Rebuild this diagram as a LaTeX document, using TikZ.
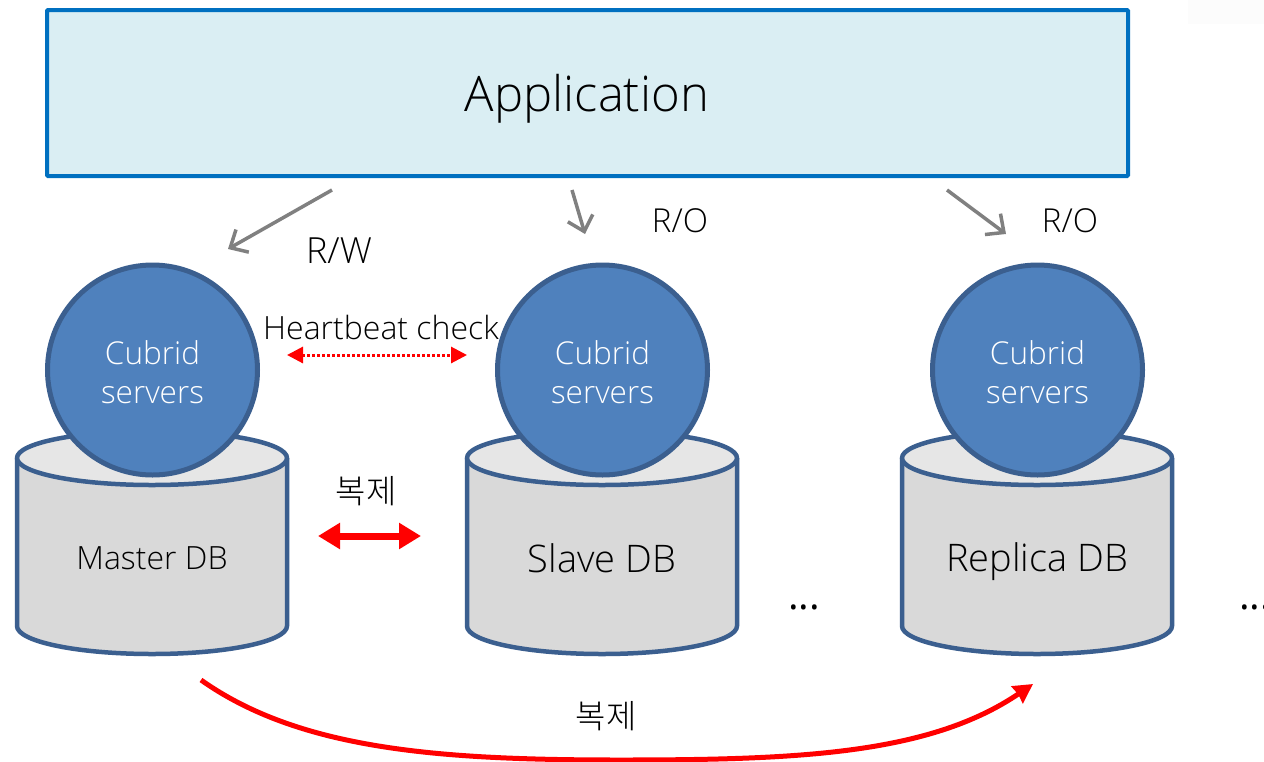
\documentclass[tikz,border=0pt]{standalone}
\usepackage{fontspec}
\setmainfont{Open Sans Light}[BoldFont={Open Sans}]
\newfontfamily\kofont{Noto Sans CJK KR Light}
\usetikzlibrary{arrows.meta}
\definecolor{edgeblue}{HTML}{3B5F8F}
\definecolor{fillblue}{HTML}{4F81BD}
\definecolor{appfill}{HTML}{DAEEF3}
\definecolor{appedge}{HTML}{0070C0}
\definecolor{bodygray}{HTML}{D9D9D9}
\definecolor{topgray}{HTML}{E6E6E6}
\definecolor{arrowgray}{HTML}{808080}
\tikzset{
  x=1pt,y=-1pt,
  appbox/.style={draw=appedge,fill=appfill,line width=4pt,rounded corners=1pt,minimum width=1081pt,minimum height=166pt,inner sep=0pt},
  server/.style={circle,draw=edgeblue,fill=fillblue,line width=5pt,minimum size=210pt,inner sep=0pt,text=white,align=center,font=\fontsize{31.5}{39}\selectfont},
  dbshape/.style={draw=edgeblue,line width=4.5pt,line join=round},
  lbl/.style={inner sep=0pt,text=black,font=\fontsize{33}{36}\selectfont},
  dblbl/.style={inner sep=0pt,text=black,font=\fontsize{38}{40}\selectfont},
  kolbl/.style={inner sep=0pt,text=black,font=\kofont\fontsize{33}{36}\selectfont},
  dotlbl/.style={inner sep=0pt,text=black,font=\bfseries\fontsize{40}{40}\selectfont},
  grayarrow/.style={draw=arrowgray,line width=3.5pt,-{Straight Barb[length=14pt,width=26pt,line width=3.5pt]}},
  hbarrow/.style={draw=red,line width=3pt,dotted,{Triangle[length=16pt,width=16pt,sep=0pt]}-{Triangle[length=16pt,width=16pt]}},
  reparrow/.style={draw=red,line width=7pt,{Triangle[length=22pt,width=25pt]}-{Triangle[length=22pt,width=25pt]}},
  curvearrow/.style={draw=red,line width=5pt,-{Stealth[length=19pt,width=20pt,inset=1pt]}},
  pics/dbcyl/.style={code={
    \path[dbshape,fill=bodygray] (-135,-1) -- (-135,167) arc[start angle=180,end angle=360,x radius=135,y radius=-28] -- (135,-1);
    \path[dbshape,fill=topgray] (0,-1) ellipse[x radius=135,y radius=27];
  }}
}
\newcommand{\srvtext}{\rule{0pt}{29pt}Cubrid\\servers}
\begin{document}
\begin{tikzpicture}
\useasboundingbox (0,0) rectangle (1264,761);
\fill[white] (0,0) rectangle (1264,761);
\fill[black!1] (1188,0) rectangle (1264,24);
\node[appbox] (app) at (587.5,93) {};
\node[inner sep=0pt,font=\fontsize{49}{50}\selectfont] (apptext) at (587,99) {Application};
\pic at (152,459) {dbcyl};
\pic at (602,459) {dbcyl};
\pic at (1037,459) {dbcyl};
\node[server] (s1) at (152.5,370) {\srvtext};
\node[server] (s2) at (602.5,370) {\srvtext};
\node[server] (s3) at (1037.5,370) {\srvtext};
\node[dblbl,font=\fontsize{32}{36}\selectfont] (d1) at (152,558) {Master DB};
\node[dblbl] (d2) at (602,558) {Slave DB};
\node[dblbl] (d3) at (1037,562) {Replica DB};
\node[lbl,font=\fontsize{36}{36}\selectfont] (rw) at (339,251) {R/W};
\node[lbl] (ro1) at (680,221) {R/O};
\node[lbl] (ro2) at (1070,221) {R/O};
\node[lbl,font=\fontsize{32}{36}\selectfont] (hb) at (381,327) {Heartbeat check};
\node[kolbl] (k1) at (366,491) {복제};
\node[kolbl] (k2) at (606,716) {복제};
\node[dotlbl] (dots1) at (804,607) {...};
\node[dotlbl] (dots2) at (1255,607) {...};
\coordinate (a1s) at (332,190); \coordinate (a1e) at (228,249);
\coordinate (a2s) at (572,190); \coordinate (a2e) at (585,234);
\coordinate (a3s) at (947,190); \coordinate (a3e) at (1006,234);
\coordinate (hbs) at (287,355); \coordinate (hbe) at (467,355);
\coordinate (rs) at (318,536); \coordinate (re) at (421,536);
\coordinate (cs) at (201,680); \coordinate (cm) at (620,760); \coordinate (ce) at (1033,684);
\draw[grayarrow] (a1s) -- (a1e);
\draw[grayarrow] (a2s) -- (a2e);
\draw[grayarrow] (a3s) -- (a3e);
\draw[hbarrow] (hbs) -- (hbe);
\draw[reparrow] (rs) -- (re);
\draw[curvearrow] (cs) .. controls (300,750) and (440,760) .. (cm) .. controls (800,760) and (930,754) .. (ce);
\end{tikzpicture}
\end{document}
